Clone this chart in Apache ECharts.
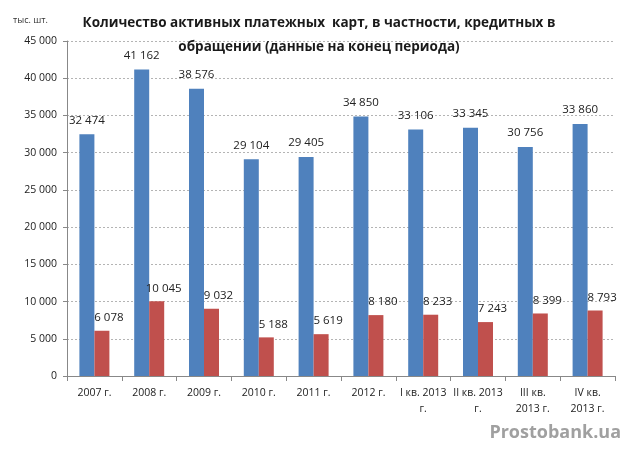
<!DOCTYPE html>
<html><head><meta charset="utf-8">
<script src="https://cdn.jsdelivr.net/npm/echarts@6/dist/echarts.min.js"></script>
<style>html,body{margin:0;padding:0;background:#fff}#c{width:640px;height:450px}</style>
</head><body><div id="c"></div>
<script>
const categories = ['2007 г.', '2008 г.', '2009 г.', '2010 г.', '2011 г.', '2012 г.', 'I кв. 2013\nг.', 'II кв. 2013\nг.', 'III кв.\n2013 г.', 'IV кв.\n2013 г.'];
const allCards = [32474, 41162, 38576, 29104, 29405, 34850, 33106, 33345, 30756, 33860];
const creditCards = [6078, 10045, 9032, 5188, 5619, 8180, 8233, 7243, 8399, 8793];
const titleText = 'Количество активных платежных  карт, в частности, кредитных в\nобращении (данные на конец периода)';
const unitText = 'тыс. шт.';
const watermark = 'Prostobank.ua';

const fmt = v => String(v).replace(/\B(?=(\d{3})+(?!\d))/g, ' ');
const font = 'Open Sans, Noto Sans, sans-serif';
const chart = echarts.init(document.getElementById('c'), null, {renderer: 'canvas'});
chart.setOption({
  animation: false,
  backgroundColor: '#fff',
  title: [{
    text: titleText, left: 314, top: 6, textAlign: 'center',
    textStyle: {fontFamily: font, fontSize: 13.5, fontWeight: 'bold', color: '#1a1a1a', lineHeight: 24}
  }, {
    text: unitText, left: 8, top: 11,
    textStyle: {fontFamily: font, fontSize: 9, fontWeight: 'normal', color: '#333'}
  }, {
    text: watermark, right: 14, top: 419,
    textStyle: {fontFamily: font, fontSize: 18, fontWeight: 'bold', color: '#a0a0a0'}
  }],
  grid: {left: 67, right: 25, top: 41, bottom: 74},
  xAxis: {
    type: 'category', data: categories,
    axisLine: {lineStyle: {color: '#888'}},
    axisTick: {show: true, length: 5, lineStyle: {color: '#888'}},
    axisLabel: {fontFamily: font, fontSize: 10.5, color: '#222', interval: 0, lineHeight: 16, margin: 9}
  },
  yAxis: {
    type: 'value', min: 0, max: 45000, interval: 5000,
    axisLine: {show: true, lineStyle: {color: '#888'}},
    axisTick: {show: true, length: 4, lineStyle: {color: '#888'}},
    axisLabel: {fontFamily: font, fontSize: 10.5, color: '#222', formatter: fmt, margin: 10},
    splitLine: {lineStyle: {color: '#b4b4b4', type: [2, 2]}}
  },
  series: [{
    type: 'bar', data: allCards, barWidth: 15, barGap: '0%',
    itemStyle: {color: '#4F81BD'},
    label: {show: true, position: 'top', distance: 8, formatter: p => fmt(p.value), fontFamily: font, fontSize: 11.5, color: '#222'}
  }, {
    type: 'bar', data: creditCards, barWidth: 15,
    itemStyle: {color: '#C0504D'},
    label: {show: true, position: 'top', distance: 7, offset: [7, 0], formatter: p => fmt(p.value), fontFamily: font, fontSize: 11.5, color: '#222'}
  }]
});
</script></body></html>
